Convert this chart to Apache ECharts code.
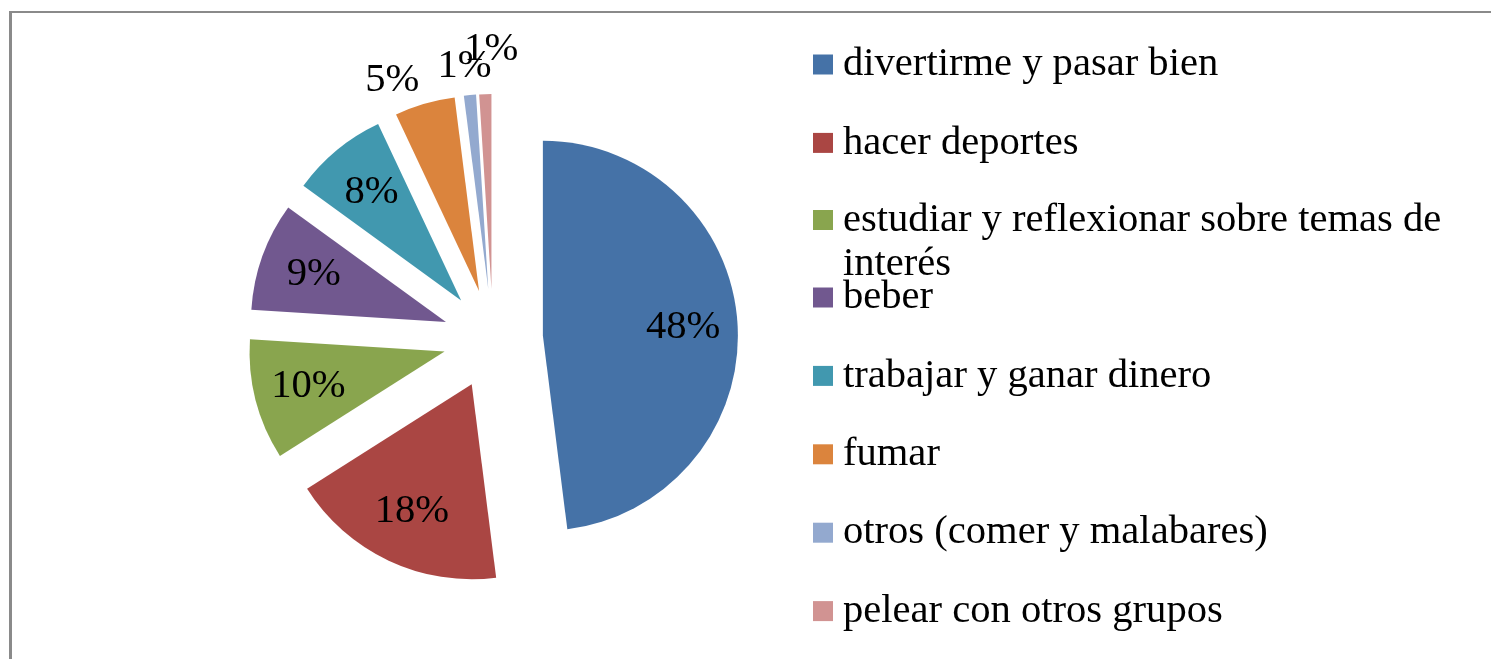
<!DOCTYPE html>
<html>
<head>
<meta charset="utf-8">
<script src="https://cdn.jsdelivr.net/npm/echarts@6/dist/echarts.min.js"></script>
<style>
  html, body { margin: 0; padding: 0; background: #fff; }
  .frame {
    position: absolute; left: 9px; top: 11px; width: 2000px; height: 1000px;
    border-top: 2px solid #8a8a8a; border-left: 3px solid #8a8a8a;
  }
  #chart { position: absolute; left: 0; top: 0; width: 1491px; height: 659px; }
</style>
</head>
<body>
<div class="frame"></div>
<div id="chart"></div>
<script>
// datos (porcentajes)
var categories = [
  "divertirme y pasar bien",
  "hacer deportes",
  "estudiar y reflexionar sobre temas de interés",
  "beber",
  "trabajar y ganar dinero",
  "fumar",
  "otros (comer y malabares)",
  "pelear con otros grupos"
];
var values = [48, 18, 10, 9, 8, 5, 1, 1];
var colors = ["#4572A7", "#AA4643", "#89A54E", "#71588F", "#4198AF", "#DB843D", "#93A9CF", "#D19392"];

var font = "'Liberation Serif', 'Times New Roman', serif";
var R = 195;
var explode = 50;
var center = [493, 339];
// pequeños desplazamientos de las etiquetas exteriores (como las dejó Excel)
var outerNudge = { 5: [-22, 12], 6: [-2, 8], 7: [7, -8] };

var chartDom = document.getElementById("chart");
var myChart = echarts.init(chartDom);

function sliceData(withLabel) {
  return categories.map(function (name, i) {
    var item = { name: name, value: values[i], selected: true };
    if (withLabel) item.label = { show: withLabel(values[i]) };
    return item;
  });
}

var legendText = { fontFamily: font, fontSize: 40.6, color: "#000", lineHeight: 40, padding: [0, 0, 0, 5] };

function legendPart(top, names) {
  return {
    orient: "vertical",
    left: 813,
    top: top,
    padding: 0,
    itemGap: 37.4,
    itemWidth: 20,
    itemHeight: 20,
    icon: "rect",
    textStyle: legendText,
    data: names
  };
}

// el tercer elemento ocupa dos líneas; la línea vacía delante deja el icono junto a la primera
var legendB = legendPart(154, [{
  name: categories[2],
  textStyle: { width: 620, overflow: "break", lineHeight: 44 }
}]);
legendB.formatter = function (name) { return "\n" + name; };

var labelText = { formatter: "{c}%", fontFamily: font, fontSize: 40.6, color: "#000" };

var baseSeries = {
  type: "pie",
  center: center,
  startAngle: 90,
  clockwise: true,
  selectedMode: "multiple",
  selectedOffset: explode,
  avoidLabelOverlap: false,
  labelLayout: { hideOverlap: false },
  labelLine: { show: false },
  emphasis: { scale: false }
};

var option = {
  animation: false,
  color: colors,
  legend: [
    legendPart(44, categories.slice(0, 2)),
    legendB,
    legendPart(277, categories.slice(3))
  ],
  series: [
    Object.assign({}, baseSeries, {
      name: "main",
      radius: R,
      itemStyle: { borderWidth: 0 },
      label: { show: false },
      data: sliceData()
    }),
    // anillo transparente solo para poner las etiquetas interiores
    Object.assign({}, baseSeries, {
      name: "inner labels",
      radius: [80, R],
      silent: true,
      itemStyle: { color: "transparent", borderWidth: 0 },
      label: Object.assign({ position: "inside" }, labelText),
      data: sliceData(function (v) { return v >= 6; })
    }),
    // etiquetas de las porciones pequeñas, fuera del pastel
    Object.assign({}, baseSeries, {
      name: "outer labels",
      radius: [R, 263],
      silent: true,
      itemStyle: { color: "transparent", borderWidth: 0 },
      label: Object.assign({ position: "inside" }, labelText),
      labelLayout: function (params) {
        var n = outerNudge[params.dataIndex] || [0, 0];
        return { dx: n[0], dy: n[1], hideOverlap: false };
      },
      data: sliceData(function (v) { return v < 6; })
    })
  ]
};

option && myChart.setOption(option);
</script>
</body>
</html>
